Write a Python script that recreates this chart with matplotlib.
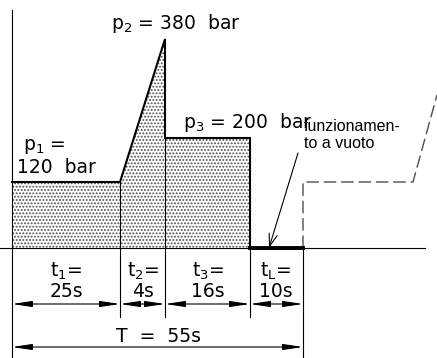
import matplotlib
matplotlib.use("Agg")
import matplotlib.pyplot as plt
import numpy as np

# cycle data
pressures = [120, 380, 200]          # bar
durations = [25, 4, 16, 10]          # s  (t1, t2, t3, tL)
t_names = ['1', '2', '3', 'L']
idle_text = 'funzionamen-\nto a vuoto'

# the sketch is not to scale in time: drawn width of each phase (px)
seg_w = [108, 45, 85, 53]
BAR_PX = 0.55                        # px per bar on the vertical

W, H = 437, 358
X0, BASE = 12, 248                   # pixel position of origin


def X(px):
    return px - X0


def Y(py):
    return (BASE - py) / BAR_PX


plt.rcParams['mathtext.default'] = 'regular'
plt.rcParams['hatch.linewidth'] = 0.9

fig = plt.figure(figsize=(W / 100, H / 100), dpi=100)
ax = fig.add_axes([0, 0, 1, 1])
ax.set_xlim(X(0), X(W))
ax.set_ylim(Y(H), Y(0))
ax.axis('off')

edges = np.concatenate([[0], np.cumsum(seg_w)])
p1, p2, p3 = pressures

# pressure profile
px_ = [0, 0, edges[1], edges[2], edges[2], edges[3], edges[3]]
py_ = [0, p1, p1, p2, p3, p3, 0]
ax.fill(px_, py_, facecolor='white', edgecolor='0.3', lw=0, hatch='.....', zorder=1)
ax.plot(px_[1:] + [edges[4]], py_[1:] + [0], color='k', lw=1.5, zorder=3,
        solid_joinstyle='miter')
ax.plot([edges[3], edges[4]], [0, 0], color='k', lw=2.8, zorder=4)

# thin inner verticals
ax.plot([edges[1], edges[1]], [p1, Y(317)], color='k', lw=0.8)
ax.plot([edges[2], edges[2]], [p3, Y(317)], color='k', lw=0.8)
ax.plot([edges[3], edges[3]], [0, Y(317)], color='k', lw=0.8)
ax.plot([edges[4], edges[4]], [0, Y(H)], color='k', lw=0.8)

# axes lines
ax.plot([X(0), X(425)], [0, 0], color='k', lw=0.8)
ax.plot([0, 0], [Y(10), Y(H)], color='k', lw=0.8)

# next cycle (dashed)
ax.plot([edges[4], edges[4], X(413), X(437)], [0, p1, p1, Y(95)],
        color='0.3', lw=1.0, dashes=(9, 3.5), zorder=2)

# dimension arrows
arr = dict(arrowstyle='<|-|>,head_length=1.2,head_width=0.18',
           color='k', lw=0.8, shrinkA=0, shrinkB=0)
for a, b in zip(edges[:-1], edges[1:]):
    ax.annotate('', xy=(a, Y(304)), xytext=(b, Y(304)), arrowprops=arr)
ax.annotate('', xy=(0, Y(347)), xytext=(edges[4], Y(347)), arrowprops=arr)

fs = 13.5
for i, (d, n) in enumerate(zip(durations, t_names)):
    xc = X([66, 143, 208, 276][i])
    ax.text(xc, Y(277), 't$_{%s}$=' % n, ha='center', va='baseline', fontsize=fs)
    ax.text(xc, Y(297), '%ds' % d, ha='center', va='baseline', fontsize=fs)
ax.text(X(159), Y(342), 'T  =  %ds' % sum(durations), ha='center',
        va='baseline', fontsize=fs)

ax.text(X(23), Y(150), 'p$_1$ =', ha='left', va='baseline', fontsize=fs)
ax.text(X(17), Y(173), '%d  bar' % p1, ha='left', va='baseline', fontsize=fs)
ax.text(X(111), Y(29), 'p$_2$ = %d  bar' % p2, ha='left', va='baseline', fontsize=fs)
ax.text(X(183), Y(128), 'p$_3$ = %d  bar' % p3, ha='left', va='baseline', fontsize=fs)

ax.text(X(304), Y(148), idle_text, ha='left', va='baseline', fontsize=11.5,
        family='Liberation Sans', linespacing=1.2)
ax.annotate('', xy=(X(269), 0), xytext=(X(298), Y(153)),
            arrowprops=dict(arrowstyle='->,head_length=0.9,head_width=0.3',
                            color='k', lw=0.8, shrinkA=0, shrinkB=0))

fig.savefig('out.png', dpi=100)
